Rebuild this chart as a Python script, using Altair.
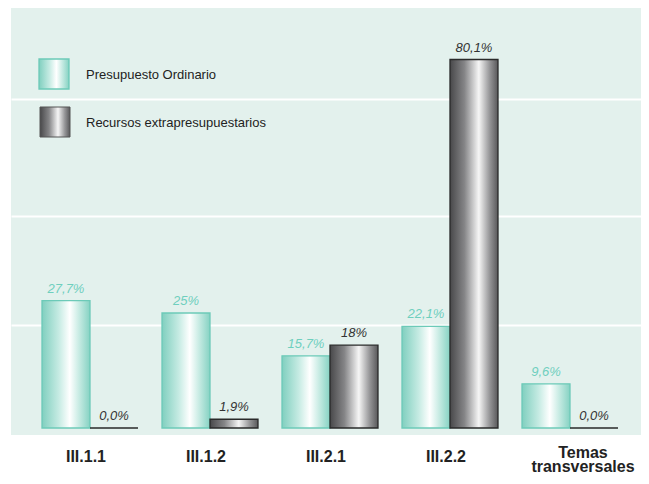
import altair as alt
import pandas as pd

# ---- data ----
groups = ["III.1.1", "III.1.2", "III.2.1", "III.2.2", "Temas transversales"]
series = ["Presupuesto Ordinario", "Recursos extrapresupuestarios"]
ordinario = [27.7, 25.0, 15.7, 22.1, 9.6]
extra = [0.0, 1.9, 18.0, 80.1, 0.0]
ordinario_labels = ["27,7%", "25%", "15,7%", "22,1%", "9,6%"]
extra_labels = ["0,0%", "1,9%", "18%", "80,1%", "0,0%"]
grid_values = [22.4, 46.1, 71.5]

rows = []
for g, v, l in zip(groups, ordinario, ordinario_labels):
    rows.append({"group": g, "series": series[0], "value": v, "label": l})
for g, v, l in zip(groups, extra, extra_labels):
    rows.append({"group": g, "series": series[1], "value": v, "label": l})
df = pd.DataFrame(rows)
legend_df = pd.DataFrame({"series": series})

FONT = "Liberation Sans"
TEAL_STROKE = "#6ccab8"
TEAL_TEXT = "#6fcfbe"
GRAY_STROKE = "#2a2a2a"
GRAY_TEXT = "#333333"

teal_grad = alt.LinearGradient(
    gradient="linear", x1=0, x2=1, y1=0, y2=0,
    stops=[
        alt.GradientStop(color="#80cfbf", offset=0),
        alt.GradientStop(color="#c6ebe3", offset=0.35),
        alt.GradientStop(color="#ffffff", offset=0.58),
        alt.GradientStop(color="#bfe8df", offset=0.8),
        alt.GradientStop(color="#86d2c3", offset=1),
    ],
)
gray_grad = alt.LinearGradient(
    gradient="linear", x1=0, x2=1, y1=0, y2=0,
    stops=[
        alt.GradientStop(color="#48484a", offset=0),
        alt.GradientStop(color="#858587", offset=0.3),
        alt.GradientStop(color="#f6f6f6", offset=0.6),
        alt.GradientStop(color="#98989a", offset=0.82),
        alt.GradientStop(color="#58585a", offset=1),
    ],
)

IS_TEMAS = "datum.value == 'Temas transversales'"
x_enc = alt.X(
    "group:N", sort=groups,
    scale=alt.Scale(domain=groups, paddingInner=0.2, paddingOuter=0.225, align=0.574),
    axis=alt.Axis(
        title=None, domain=False, ticks=False, labelAngle=0,
        labelFont=FONT, labelFontWeight="bold", labelFontSize=16,
        labelColor="#222222", labelLineHeight=14,
        labelLimit=300,
        labelPadding={"condition": {"test": IS_TEMAS, "value": 9}, "value": 13},
        labelOffset={"condition": {"test": IS_TEMAS, "value": 13}, "value": -4},
        labelExpr=IS_TEMAS + " ? ['Temas', 'transversales'] : datum.value",
    ),
)
xo_enc = alt.XOffset("series:N", scale=alt.Scale(domain=series, paddingInner=0, paddingOuter=0))
y_scale = alt.Scale(domain=[-1.52, 91.3], nice=False, zero=False)
y_enc = alt.Y(
    "value:Q", scale=y_scale,
    axis=alt.Axis(values=grid_values, grid=True, gridColor="white", gridWidth=2,
                  labels=False, ticks=False, domain=False, title=None),
)

base = alt.Chart(df)

bars_ord = base.transform_filter(alt.datum.series == series[0]).mark_bar(
    fill=teal_grad, stroke=TEAL_STROKE, strokeWidth=1.3
).encode(x=x_enc, xOffset=xo_enc, y=y_enc, y2=alt.datum(0))

bars_ext = base.transform_filter(alt.datum.series == series[1]).mark_bar(
    fill=gray_grad, stroke=GRAY_STROKE, strokeWidth=1.3
).encode(x=x_enc, xOffset=xo_enc, y=alt.Y("value:Q", scale=y_scale), y2=alt.datum(0))

text_ord = base.transform_filter(alt.datum.series == series[0]).mark_text(
    font=FONT, fontStyle="italic", fontSize=13, baseline="bottom", dy=-5, color=TEAL_TEXT
).encode(x=x_enc, xOffset=xo_enc, y=alt.Y("value:Q", scale=y_scale), text="label:N")

text_ext = base.transform_filter(alt.datum.series == series[1]).mark_text(
    font=FONT, fontStyle="italic", fontSize=13, baseline="bottom", dy=-5, color=GRAY_TEXT
).encode(x=x_enc, xOffset=xo_enc, y=alt.Y("value:Q", scale=y_scale), text="label:N")

# manual legend with gradient swatches
leg = alt.Chart(legend_df)
sw1 = leg.transform_filter(alt.datum.series == series[0]).mark_rect(
    fill=teal_grad, stroke=TEAL_STROKE, strokeWidth=1.3
).encode(x=alt.value(28), x2=alt.value(58), y=alt.value(51), y2=alt.value(81))
sw2 = leg.transform_filter(alt.datum.series == series[1]).mark_rect(
    fill=gray_grad, stroke="#555555", strokeWidth=1
).encode(x=alt.value(29), x2=alt.value(59), y=alt.value(99), y2=alt.value(129))
lt1 = leg.transform_filter(alt.datum.series == series[0]).mark_text(
    font=FONT, fontSize=13, align="left", baseline="middle", color="#222222"
).encode(x=alt.value(75), y=alt.value(67), text="series:N")
lt2 = leg.transform_filter(alt.datum.series == series[1]).mark_text(
    font=FONT, fontSize=13, align="left", baseline="middle", color="#222222"
).encode(x=alt.value(75), y=alt.value(115), text="series:N")

chart = alt.layer(
    bars_ord, bars_ext, text_ord, text_ext, sw1, sw2, lt1, lt2
).properties(
    width=630, height=427,
    autosize=alt.AutoSizeParams(type="none"),
    padding={"left": 3, "top": 0, "right": 0, "bottom": 37},
    background="white",
).configure_view(fill="#e3f1ed", strokeWidth=0)

chart.save("out.html", embed_options={"renderer": "svg", "actions": False})
